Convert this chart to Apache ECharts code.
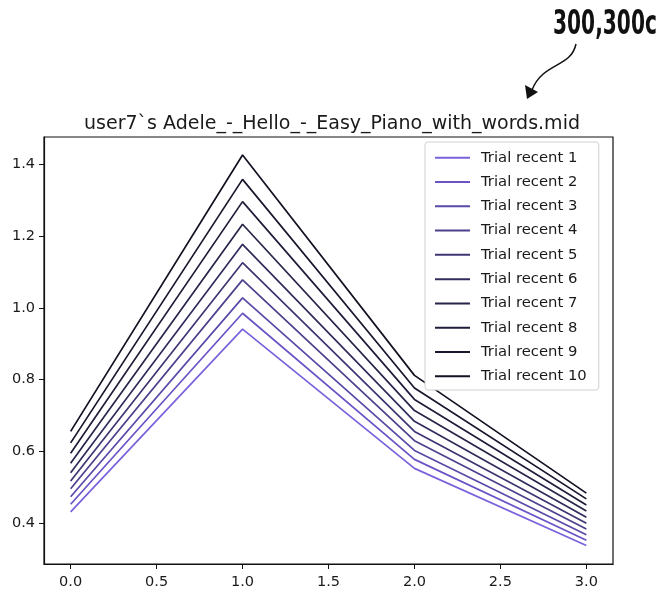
<!DOCTYPE html>
<html>
<head>
<meta charset="utf-8">
<script src="https://cdn.jsdelivr.net/npm/echarts@6/dist/echarts.min.js"></script>
<style>html,body{margin:0;padding:0;background:#fff}#c{width:656px;height:594px}</style>
</head>
<body>
<div id="c"></div>
<script>
// ---- data ----
const xValues = [0, 1, 2, 3];
const seriesNames = ['Trial recent 1','Trial recent 2','Trial recent 3','Trial recent 4','Trial recent 5',
                     'Trial recent 6','Trial recent 7','Trial recent 8','Trial recent 9','Trial recent 10'];
const trial1  = [0.432, 0.941, 0.553, 0.338];
const trial2  = [0.453, 0.985, 0.578, 0.353];
const trial3  = [0.474, 1.028, 0.603, 0.368];
const trial4  = [0.496, 1.078, 0.630, 0.384];
const trial5  = [0.518, 1.126, 0.656, 0.400];
const trial6  = [0.541, 1.177, 0.684, 0.417];
const trial7  = [0.567, 1.233, 0.714, 0.434];
const trial8  = [0.595, 1.296, 0.745, 0.451];
const trial9  = [0.624, 1.358, 0.777, 0.468];
const trial10 = [0.656, 1.426, 0.812, 0.484];
const xTicks = [0, 0.5, 1, 1.5, 2, 2.5, 3];
const yTicks = [0.4, 0.6, 0.8, 1.0, 1.2, 1.4];
const titleText = 'user7`s Adele_-_Hello_-_Easy_Piano_with_words.mid';
const annotationText = '300,300c';

const allTrials = [trial1, trial2, trial3, trial4, trial5, trial6, trial7, trial8, trial9, trial10];
const lineColors = ['#7b62dc','#6b53c6','#5b49a8','#4c418c','#3c3672','#302d5c','#272549','#1f1d39','#18172d','#121222'];

const chart = echarts.init(document.getElementById('c'), null, {renderer: 'canvas'});
const font = 'DejaVu Sans';

const series = allTrials.map((vals, i) => ({
  name: seriesNames[i],
  type: 'line',
  symbol: 'none',
  silent: true,
  animation: false,
  data: xValues.map((x, j) => [x, vals[j]]),
  lineStyle: {color: lineColors[i], width: 1.7},
  itemStyle: {color: lineColors[i]}
}));

chart.setOption({
  backgroundColor: '#fff',
  animation: false,
  title: {
    text: titleText,
    left: 327, top: 110, textAlign: 'center',
    textStyle: {fontFamily: font, fontSize: 19, fontWeight: 'normal', color: '#1a1a1a'}
  },
  grid: {
    left: 44, top: 137, width: 569, height: 427,
    show: true, borderColor: '#111', borderWidth: 1.2, backgroundColor: '#fff'
  },
  legend: {
    orient: 'vertical',
    left: 425, top: 142,
    data: seriesNames.map(n => ({name: n, icon: 'rect'})),
    itemWidth: 35, itemHeight: 2, itemGap: 7,
    padding: [7, 12, 5, 10],
    backgroundColor: '#fff',
    borderColor: '#d0d0d0', borderWidth: 1, borderRadius: 3,
    textStyle: {fontFamily: font, fontSize: 14.8, color: '#1a1a1a', padding: [0, 0, 0, 6], lineHeight: 17.3},
    selectedMode: false
  },
  xAxis: {
    type: 'value', min: -0.155, max: 3.155,
    splitLine: {show: false},
    axisLine: {show: true, onZero: false, lineStyle: {color: '#111', width: 1.2}},
    axisTick: {show: true, length: 5, customValues: xTicks, lineStyle: {color: '#111'}},
    axisLabel: {customValues: xTicks, margin: 11, fontFamily: font, fontSize: 14.5, color: '#1a1a1a',
      formatter: v => v.toFixed(1)}
  },
  yAxis: {
    type: 'value', min: 0.2866, max: 1.476,
    splitLine: {show: false},
    axisLine: {show: true, onZero: false, lineStyle: {color: '#111', width: 1.2}},
    axisTick: {show: true, length: 5, customValues: yTicks, lineStyle: {color: '#111'}},
    axisLabel: {customValues: yTicks, margin: 9, fontFamily: font, fontSize: 14.5, color: '#1a1a1a',
      formatter: v => v.toFixed(1)}
  },
  series: series,
  graphic: [
    {
      type: 'text', x: 553, y: 9, silent: true, scaleX: 0.68, originX: 0, originY: 0,
      style: {text: annotationText, font: 'bold 33px "DejaVu Sans Condensed", "DejaVu Sans", sans-serif', fill: '#111'}
    },
    {
      type: 'bezierCurve', silent: true,
      shape: {x1: 576, y1: 44, cpx1: 571, cpy1: 68, cpx2: 543, cpy2: 62, x2: 532, y2: 90},
      style: {stroke: '#111', lineWidth: 1.5, fill: null}
    },
    {
      type: 'polygon', silent: true,
      shape: {points: [[527, 99], [525, 85], [538, 92]]},
      style: {fill: '#111'}
    }
  ]
});
</script>
</body>
</html>
